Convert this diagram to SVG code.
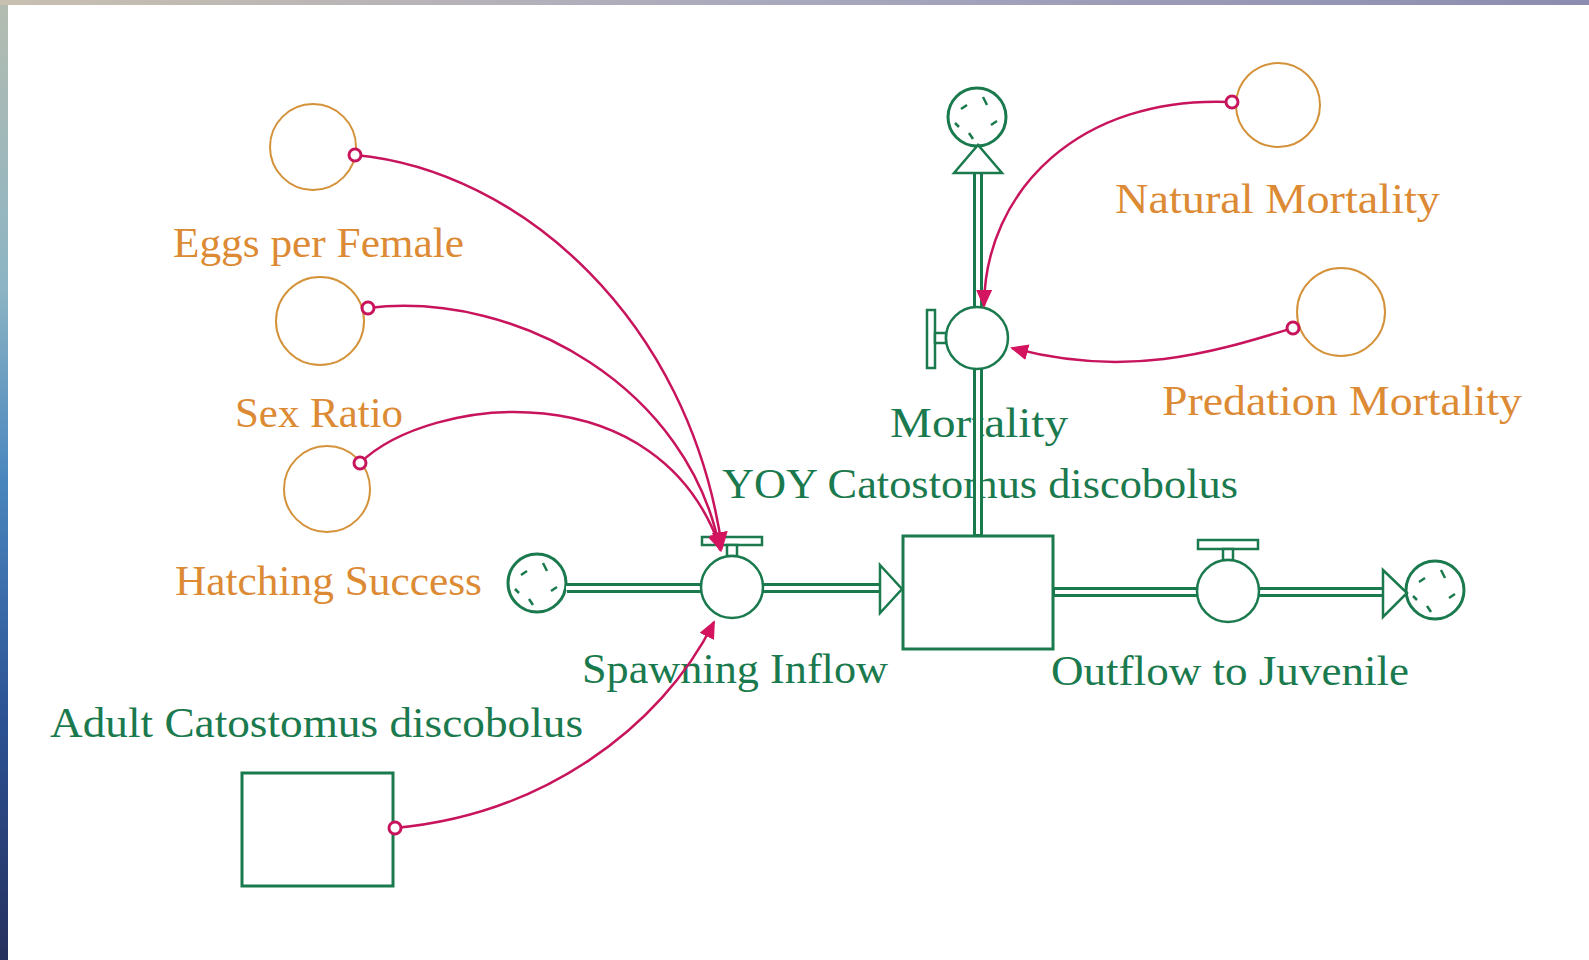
<svg xmlns="http://www.w3.org/2000/svg" width="1589" height="960" viewBox="0 0 1589 960">
<defs>
<linearGradient id="lstrip" x1="0" y1="0" x2="0" y2="1">
<stop offset="0" stop-color="#b4bcb0"/>
<stop offset="0.3" stop-color="#8cb4c4"/>
<stop offset="0.5" stop-color="#4a86be"/>
<stop offset="0.75" stop-color="#2c5294"/>
<stop offset="1" stop-color="#26305e"/>
</linearGradient>
<linearGradient id="tstrip" x1="0" y1="0" x2="1" y2="0">
<stop offset="0" stop-color="#c8c0b0"/>
<stop offset="0.5" stop-color="#a8a8be"/>
<stop offset="1" stop-color="#8c8cb0"/>
</linearGradient>
<marker id="arr" markerUnits="userSpaceOnUse" markerWidth="18" markerHeight="16" refX="16" refY="8" orient="auto" viewBox="0 0 18 16">
<path d="M0,0 L18,8 L0,16 z" fill="#d4145e"/>
</marker>
<symbol id="cloud" viewBox="-31 -31 62 62" overflow="visible">
<circle r="29" fill="#ffffff" stroke="#1a7a4e" stroke-width="3"/>
<path d="M-16,-8 L-10,-12 M6,-20 L10,-12 M14,8 L20,4 M-8,16 L-4,22 M-22,6 L-18,10" stroke="#1a7a4e" stroke-width="2.5" fill="none"/>
</symbol>
</defs>
<style>
.lbl-o{font-family:"Liberation Serif","Times New Roman",serif;font-size:42px;fill:#dc8a34}
.lbl-g{font-family:"Liberation Serif","Times New Roman",serif;font-size:42px;fill:#1a7a4e}
.aux{fill:#ffffff;stroke:#d4923a;stroke-width:2}
.stock{fill:#ffffff;stroke:#1a7a4e;stroke-width:3}
.valve{fill:#ffffff;stroke:#1a7a4e;stroke-width:2.5}
.handle{fill:#ffffff;stroke:#1a7a4e;stroke-width:2.5}
.pipeo{fill:none;stroke:#1a7a4e;stroke-width:10}
.pipei{fill:none;stroke:#ffffff;stroke-width:4}
.tri{fill:#ffffff;stroke:#1a7a4e;stroke-width:2.5}
.link{fill:none;stroke:#c8145c;stroke-width:2.5}
.dot{fill:#ffffff;stroke:#c8145c;stroke-width:3}
</style>
<rect x="0" y="0" width="1589" height="960" fill="#ffffff"/>
<rect x="0" y="0" width="8" height="960" fill="url(#lstrip)"/>
<rect x="0" y="0" width="1589" height="5" fill="url(#tstrip)"/>

<g id="eggs-per-female">
<circle class="aux" cx="313" cy="147" r="43"/>
<text class="lbl-o" x="173" y="257" textLength="291" lengthAdjust="spacingAndGlyphs">Eggs per Female</text>
</g>
<g id="sex-ratio">
<circle class="aux" cx="320" cy="321" r="44"/>
<text class="lbl-o" x="235" y="427" textLength="168" lengthAdjust="spacingAndGlyphs">Sex Ratio</text>
</g>
<g id="hatching-success">
<circle class="aux" cx="327" cy="489" r="43"/>
<text class="lbl-o" x="175" y="595" textLength="307" lengthAdjust="spacingAndGlyphs">Hatching Success</text>
</g>
<g id="natural-mortality">
<circle class="aux" cx="1278" cy="105" r="42"/>
<text class="lbl-o" x="1115" y="213" textLength="325" lengthAdjust="spacingAndGlyphs">Natural Mortality</text>
</g>
<g id="predation-mortality">
<circle class="aux" cx="1341" cy="312" r="44"/>
<text class="lbl-o" x="1162" y="415" textLength="360" lengthAdjust="spacingAndGlyphs">Predation Mortality</text>
</g>
<g id="adult-stock">
<text class="lbl-g" x="50" y="737" textLength="533" lengthAdjust="spacingAndGlyphs">Adult Catostomus discobolus</text>
<rect class="stock" x="242" y="773" width="151" height="113"/>
</g>
<g id="yoy-stock">
<text class="lbl-g" x="722" y="498" textLength="516" lengthAdjust="spacingAndGlyphs">YOY Catostomus discobolus</text>
<rect class="stock" x="903" y="536" width="150" height="113"/>
</g>
<g id="source-cloud"><use href="#cloud" x="506" y="552" width="62" height="62"/></g>
<g id="sink-juvenile-cloud"><use href="#cloud" x="1404" y="559" width="62" height="62"/></g>
<g id="sink-mortality-cloud"><use href="#cloud" x="946" y="86" width="62" height="62"/></g>

<g id="spawning-inflow">
<text class="lbl-g" x="582" y="683" textLength="306" lengthAdjust="spacingAndGlyphs">Spawning Inflow</text>
</g>
<g id="outflow-to-juvenile">
<text class="lbl-g" x="1051" y="685" textLength="358" lengthAdjust="spacingAndGlyphs">Outflow to Juvenile</text>
</g>
<g id="mortality">
<text class="lbl-g" x="890" y="437" textLength="178" lengthAdjust="spacingAndGlyphs">Mortality</text>
</g>

<g id="connectors">
<!-- flow pipes -->
<path class="pipeo" d="M567,588 H702 M762,588 H881"/>
<path class="pipei" d="M566,588 H703 M761,588 H882"/>
<polygon class="tri" points="880,565 902,589 880,613"/>
<path class="pipeo" d="M1054,592 H1198 M1258,592 H1384"/>
<path class="pipei" d="M1055,592 H1199 M1257,592 H1385"/>
<polygon class="tri" points="1383,570 1407,593 1383,617"/>
<path class="pipeo" d="M978,535 V368 M978,308 V172"/>
<path class="pipei" d="M978,534 V367 M978,309 V171"/>
<polygon class="tri" points="954,173 978,145 1002,173"/>
<!-- valves -->
<rect class="handle" x="702" y="537" width="60" height="8"/>
<rect class="handle" x="727" y="545" width="10" height="11"/>
<circle class="valve" cx="732" cy="587" r="31"/>
<rect class="handle" x="1198" y="540" width="60" height="9"/>
<rect class="handle" x="1223" y="549" width="10" height="11"/>
<circle class="valve" cx="1228" cy="591" r="31"/>
<rect class="handle" x="927" y="310" width="8" height="58"/>
<rect class="handle" x="935" y="333" width="11" height="10"/>
<circle class="valve" cx="977" cy="338" r="31"/>
<!-- information links -->
<path class="link" d="M355,155 C520,170 690,320 722,548" marker-end="url(#arr)"/>
<path class="link" d="M368,308 C520,290 690,390 720,550" marker-end="url(#arr)"/>
<path class="link" d="M360,463 C430,395 660,370 721,550" marker-end="url(#arr)"/>
<path class="link" d="M395,828 C540,815 660,730 714,622" marker-end="url(#arr)"/>
<path class="link" d="M1232,102 C1080,95 985,190 984,306" marker-end="url(#arr)"/>
<path class="link" d="M1293,328 C1220,350 1130,380 1012,348" marker-end="url(#arr)"/>
<circle class="dot" cx="355" cy="155" r="6"/>
<circle class="dot" cx="368" cy="308" r="6"/>
<circle class="dot" cx="360" cy="463" r="6"/>
<circle class="dot" cx="395" cy="828" r="6"/>
<circle class="dot" cx="1232" cy="102" r="6"/>
<circle class="dot" cx="1293" cy="328" r="6"/>
</g>
</svg>
